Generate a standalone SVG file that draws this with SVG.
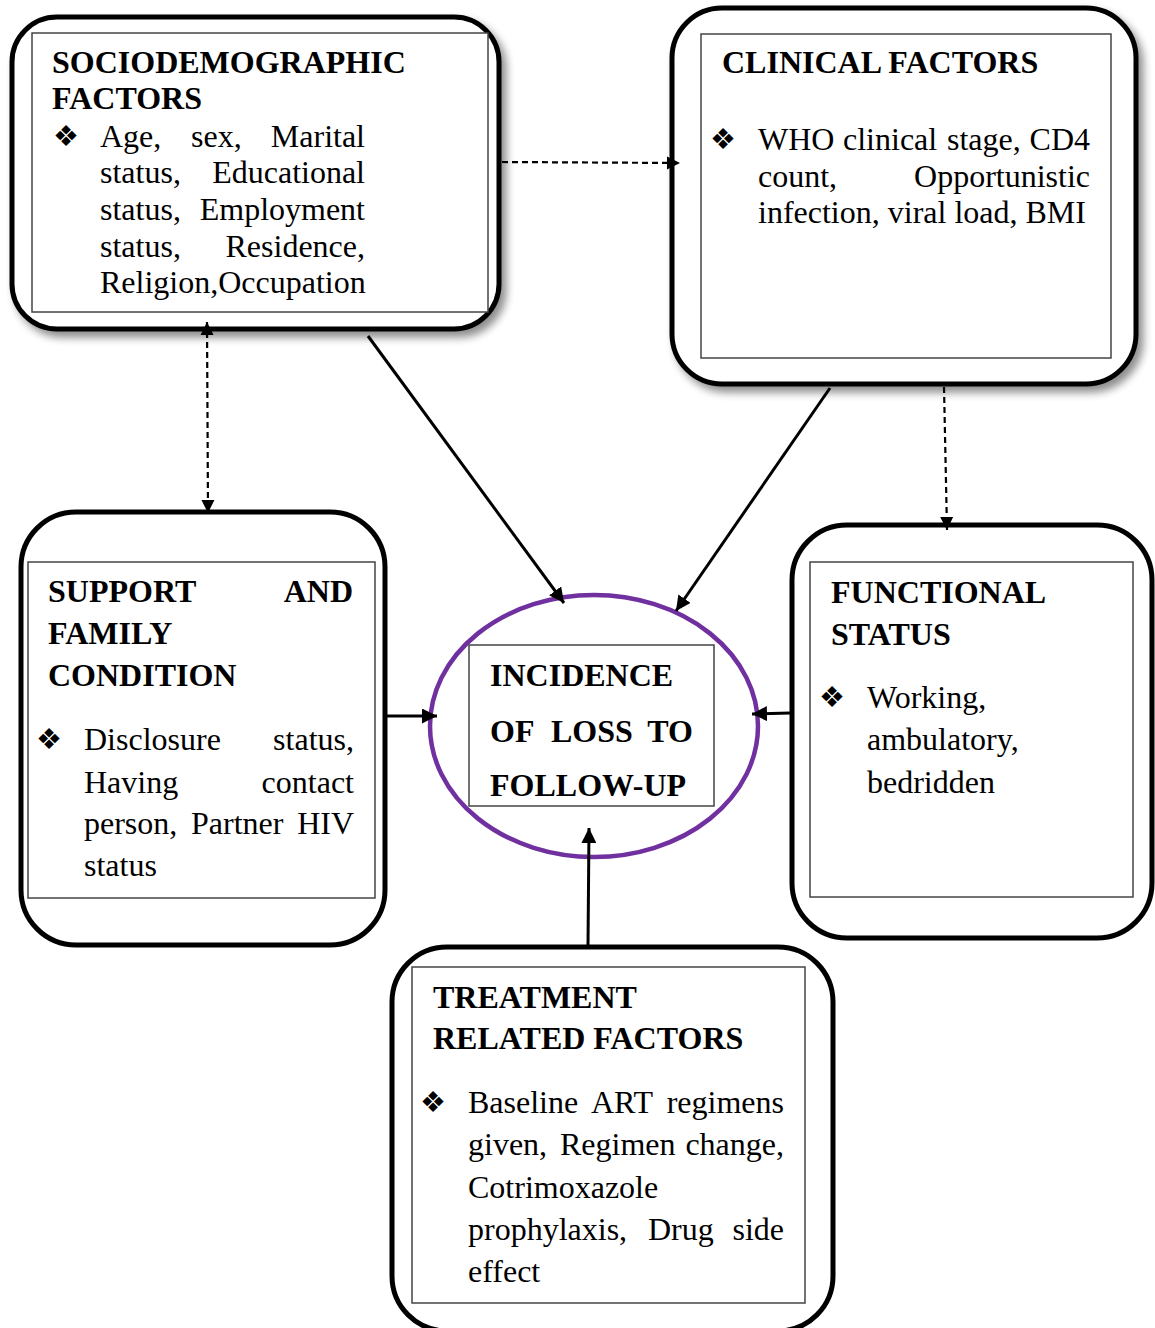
<svg xmlns="http://www.w3.org/2000/svg" width="1155" height="1328" viewBox="0 0 1155 1328">
<style>
.outer{fill:#fff;stroke:#000;stroke-width:5}
.inner{fill:#fff;stroke:#444;stroke-width:1.5}
.h{font-family:"Liberation Serif","Times New Roman",serif;font-weight:bold;font-size:32px;fill:#000}
.t{font-family:"Liberation Serif","Times New Roman",serif;font-size:32px;fill:#000}
.b{font-family:"DejaVu Sans",sans-serif;font-size:29px;fill:#000}
.e{text-anchor:end}
.sol{stroke:#000;stroke-width:3;fill:none}
.dash{stroke:#000;stroke-width:2.2;fill:none;stroke-dasharray:6 4}
</style>
<defs>
<filter id="sh" x="-10%" y="-10%" width="125%" height="125%">
<feGaussianBlur in="SourceAlpha" stdDeviation="4"/>
<feOffset dx="5" dy="6" result="o"/>
<feComponentTransfer><feFuncA type="linear" slope="0.45"/></feComponentTransfer>
<feMerge><feMergeNode/><feMergeNode in="SourceGraphic"/></feMerge>
</filter>
<marker id="ah" viewBox="0 0 10 10" refX="10" refY="5" markerWidth="5" markerHeight="5" orient="auto-start-reverse" markerUnits="strokeWidth">
<path d="M0,0 L10,5 L0,10 z" fill="#000"/>
</marker>
<marker id="ahd" viewBox="0 0 10 10" refX="10" refY="5" markerWidth="6" markerHeight="6" orient="auto-start-reverse" markerUnits="strokeWidth">
<path d="M0,0 L10,5 L0,10 z" fill="#000"/>
</marker>
</defs>
<rect width="1155" height="1328" fill="#fff"/>

<g id="socio">
<rect class="outer" x="12" y="17" width="487" height="312" rx="45" filter="url(#sh)"/>
<rect class="inner" x="32" y="33" width="456" height="279"/>
<text class="h" x="52" y="73">SOCIODEMOGRAPHIC</text>
<text class="h" x="52" y="109">FACTORS</text>
<text class="b" x="53" y="146">❖</text>
<text class="t" x="100" y="147">Age,</text><text class="t" x="191" y="147">sex,</text><text class="t e" x="365" y="147">Marital</text>
<text class="t" x="100" y="183">status,</text><text class="t e" x="365" y="183">Educational</text>
<text class="t" x="100" y="220">status,</text><text class="t e" x="365" y="220">Employment</text>
<text class="t" x="100" y="257">status,</text><text class="t e" x="365" y="257">Residence,</text>
<text class="t" x="100" y="293">Religion,Occupation</text>
</g>

<g id="clinical">
<rect class="outer" x="672" y="8" width="464" height="376" rx="50" filter="url(#sh)"/>
<rect class="inner" x="701" y="34" width="410" height="324"/>
<text class="h" x="722" y="73">CLINICAL FACTORS</text>
<text class="b" x="710" y="149">❖</text>
<text class="t" x="758" y="150">WHO</text><text class="t" x="843" y="150">clinical</text><text class="t" x="947" y="150">stage,</text><text class="t e" x="1090" y="150">CD4</text>
<text class="t" x="758" y="187">count,</text><text class="t e" x="1090" y="187">Opportunistic</text>
<text class="t" x="758" y="223">infection, viral load, BMI</text>
</g>

<g id="support">
<rect class="outer" x="21" y="512" width="364" height="433" rx="55"/>
<rect class="inner" x="28" y="562" width="347" height="336"/>
<text class="h" x="48" y="602">SUPPORT</text><text class="h e" x="353" y="602">AND</text>
<text class="h" x="48" y="644">FAMILY</text>
<text class="h" x="48" y="686">CONDITION</text>
<text class="b" x="36" y="749">❖</text>
<text class="t" x="84" y="750">Disclosure</text><text class="t e" x="354" y="750">status,</text>
<text class="t" x="84" y="793">Having</text><text class="t e" x="354" y="793">contact</text>
<text class="t" x="84" y="834">person,</text><text class="t" x="191" y="834">Partner</text><text class="t e" x="354" y="834">HIV</text>
<text class="t" x="84" y="876">status</text>
</g>

<g id="functional">
<rect class="outer" x="792" y="525" width="360" height="413" rx="55"/>
<rect class="inner" x="810" y="562" width="323" height="335"/>
<text class="h" x="831" y="603">FUNCTIONAL</text>
<text class="h" x="831" y="645">STATUS</text>
<text class="b" x="819" y="707">❖</text>
<text class="t" x="867" y="708">Working,</text>
<text class="t" x="867" y="750">ambulatory,</text>
<text class="t" x="867" y="793">bedridden</text>
</g>

<g id="outcome">
<ellipse cx="594" cy="726" rx="164" ry="131" fill="#fff" stroke="#7030A0" stroke-width="4.5"/>
<rect class="inner" x="469" y="645" width="245" height="161" stroke="#000"/>
<text class="h" x="490" y="686">INCIDENCE</text>
<text class="h" x="490" y="742">OF</text><text class="h" x="551" y="742">LOSS</text><text class="h e" x="693" y="742">TO</text>
<text class="h" x="490" y="796">FOLLOW-UP</text>
</g>

<g id="treatment">
<rect class="outer" x="392" y="947" width="441" height="384" rx="55"/>
<rect class="inner" x="412" y="967" width="393" height="336"/>
<text class="h" x="433" y="1008">TREATMENT</text>
<text class="h" x="433" y="1049">RELATED FACTORS</text>
<text class="b" x="420" y="1112">❖</text>
<text class="t" x="468" y="1113">Baseline</text><text class="t" x="591" y="1113">ART</text><text class="t e" x="784" y="1113">regimens</text>
<text class="t" x="468" y="1155">given,</text><text class="t" x="560" y="1155">Regimen</text><text class="t e" x="784" y="1155">change,</text>
<text class="t" x="468" y="1198">Cotrimoxazole</text>
<text class="t" x="468" y="1240">prophylaxis,</text><text class="t" x="648" y="1240">Drug</text><text class="t e" x="784" y="1240">side</text>
<text class="t" x="468" y="1282">effect</text>
</g>

<g id="connectors">
<line class="dash" x1="502" y1="162" x2="680" y2="163" marker-end="url(#ahd)"/>
<line class="dash" x1="207" y1="322" x2="208" y2="513" marker-start="url(#ahd)" marker-end="url(#ahd)"/>
<line class="dash" x1="944" y1="387" x2="947" y2="530" marker-end="url(#ahd)"/>
<line class="sol" x1="368" y1="336" x2="564" y2="603" marker-end="url(#ah)"/>
<line class="sol" x1="830" y1="388" x2="676" y2="611" marker-end="url(#ah)"/>
<line class="sol" x1="387" y1="716" x2="437" y2="716" marker-end="url(#ah)"/>
<line class="sol" x1="790" y1="713" x2="752" y2="714" marker-end="url(#ah)"/>
<line class="sol" x1="588" y1="945" x2="589" y2="828" marker-end="url(#ah)"/>
</g>
</svg>
